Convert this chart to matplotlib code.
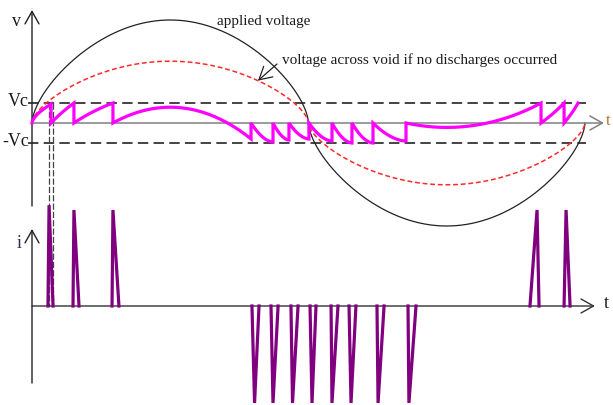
import numpy as np
import matplotlib
matplotlib.use("Agg")
import matplotlib.pyplot as plt

plt.rcParams['font.family'] = ['Liberation Serif', 'DejaVu Serif']
plt.rcParams['lines.scale_dashes'] = False

# ---------------- data ----------------
applied_amp = 10.0          # applied voltage peak
void_amp = 6.0              # voltage across void if no discharges occurred (peak)
vc = 1.95                   # discharge inception level  (+Vc / -Vc)
shape_power = 0.62          # the hand-drawn waves are fuller than a pure sine

# phases (deg) where the void voltage collapses, and the level reached just before
collapse_phase = [12.4, 27.3, 52.7, 142.6, 156.9, 167.3, 180.3, 195.3, 208.3,
                  222.0, 243.5, 331.4, 346.4]
collapse_level = [1.84, 1.94, 1.94, -1.55, -1.84, -1.65, -1.55, -1.75, -1.94,
                  -1.94, -1.75, 1.94, 1.94]
end_phase = 355.5
end_level = 1.94

# current pulses: start, tip, end phase (deg) and amplitude
spike_start = [10.4, 26.7, 52.1, 143.2, 155.6, 168.6, 181.0, 194.7, 206.4,
               224.6, 244.8, 324.2, 346.4]
spike_tip = [11.1, 27.3, 52.7, 144.9, 156.9, 169.6, 182.3, 195.3, 207.7,
             225.3, 245.4, 328.8, 347.7]
spike_end = [13.7, 30.6, 56.6, 147.8, 160.2, 173.2, 184.9, 199.2, 210.9,
             229.2, 250.0, 330.1, 350.3]
spike_amp = [1.05, 1.0, 1.0, -1.01, -1.01, -1.01, -1.01, -1.01, -1.01,
             -1.01, -1.01, 1.0, 1.0]

# ---------------- helpers ----------------
def wave(t, amp):
    s = np.sin(np.radians(t))
    return amp * np.sign(s) * np.abs(s) ** shape_power

W, H = 613, 405
fig = plt.figure(figsize=(W / 100, H / 100), dpi=100)

px_per_deg = 1.536
x0_px = 32
xlim = (-x0_px / px_per_deg, (W - x0_px) / px_per_deg)

# upper panel : voltages
top_px, bot_px = 0, 235
axv_px = 123
v_scale = 10.3
ax1 = fig.add_axes([0, 1 - bot_px / H, 1, (bot_px - top_px) / H])
ax1.set_xlim(*xlim)
ax1.set_ylim((axv_px - bot_px) / v_scale, (axv_px - top_px) / v_scale)
ax1.axis('off')
ax1.patch.set_alpha(0)

# lower panel : current
ltop_px, lbot_px = 195, 405
axi_px = 306
i_scale = 96
ax2 = fig.add_axes([0, 0, 1, (lbot_px - ltop_px) / H])
ax2.set_xlim(*xlim)
ax2.set_ylim((axi_px - lbot_px) / i_scale, (axi_px - ltop_px) / i_scale)
ax2.axis('off')
ax2.patch.set_alpha(0)

t = np.linspace(0, 360, 3000)

# Vc levels
for lvl in (vc, -vc):
    ax1.plot([-2.6, 360.7], [lvl, lvl], color='#111111', lw=1.1,
             dashes=(7.5, 3.8), clip_on=False)

# time axis (upper)
arrow_style = '->,head_length=0.75,head_width=0.42'
ax1.annotate('', xy=(372.4, 0), xytext=(0, 0),
             arrowprops=dict(arrowstyle=arrow_style, lw=1.1, color='#808080',
                             mutation_scale=12, shrinkA=0, shrinkB=0),
             annotation_clip=False)
# v axis
ax1.annotate('', xy=(0, (axv_px - 10) / v_scale), xytext=(0, (axv_px - 206) / v_scale),
             arrowprops=dict(arrowstyle=arrow_style, lw=1.0, color='#222222',
                             mutation_scale=12, shrinkA=0, shrinkB=0),
             annotation_clip=False)

# applied voltage and void voltage without discharges
ax1.plot(t, wave(t, applied_amp), color='#222222', lw=0.9, clip_on=False)
ax1.plot(t, wave(t, void_amp), color='#ff2a2a', lw=1.1, dashes=(3.5, 2.0),
         clip_on=False)

# voltage across void with discharges
bounds = [0.0] + collapse_phase + [end_phase]
levels = collapse_level + [end_level]
mx, my = [], []
for k, L in enumerate(levels):
    t0, t1 = bounds[k], bounds[k + 1]
    tt = np.linspace(t0, t1, 200)
    if L > 0 or (t1 - t0) > 40:
        r = wave(tt, void_amp) - wave(t0, void_amp)
        seg = r * L / r[-1]
    else:
        u = (tt - t0) / (t1 - t0)
        seg = L * (1 - (1 - u) ** 1.8)
    mx += list(tt)
    my += list(seg)
    if k < len(levels) - 1:
        mx.append(t1)
        my.append(0.0)
ax1.plot(mx, my, color='#ff00ff', lw=2.3, solid_joinstyle='miter', zorder=4)

# vertical dashed guide lines from first discharge down to the current axis
for xv in (spike_tip[0], spike_end[0]):
    ax1.plot([xv, xv], [vc, (axv_px - axi_px) / v_scale], color='#444444',
             lw=0.9, dashes=(4.5, 1.5), clip_on=False, zorder=2)

# texts upper
fig.text(217 / W, 1 - 21 / H, 'applied voltage', fontsize=11, color='#1a1a1a',
         ha='left', va='center')
fig.text(282 / W, 1 - 60 / H, 'voltage across void if no discharges occurred',
         fontsize=11, color='#1a1a1a', ha='left', va='center')
tip_phase = 147.1
ax1.annotate('', xy=(tip_phase, wave(tip_phase, void_amp)),
             xytext=((277 - x0_px) / px_per_deg, (axv_px - 64) / v_scale),
             arrowprops=dict(arrowstyle=arrow_style, lw=0.9, color='#222222',
                             mutation_scale=12, shrinkA=0, shrinkB=0),
             annotation_clip=False)
fig.text(17 / W, 1 - 21 / H, 'v', fontsize=13, color='#1a1a1a', ha='center', va='center')
fig.text(18 / W, 1 - 102 / H, 'Vc', fontsize=13, color='#1a1a1a', ha='center', va='center')
fig.text(16 / W, 1 - 142 / H, '-Vc', fontsize=13, color='#1a1a1a', ha='center', va='center')
fig.text(606 / W, 1 - 121 / H, 't', fontsize=12, color='#b8702a', ha='left', va='center')

# lower panel axes
ax2.annotate('', xy=(366.5, 0), xytext=(0, 0),
             arrowprops=dict(arrowstyle=arrow_style, lw=1.0, color='#333333',
                             mutation_scale=12, shrinkA=0, shrinkB=0),
             annotation_clip=False)
ax2.annotate('', xy=(0, (axi_px - 229) / i_scale), xytext=(0, (axi_px - 383) / i_scale),
             arrowprops=dict(arrowstyle=arrow_style, lw=1.0, color='#222222',
                             mutation_scale=12, shrinkA=0, shrinkB=0),
             annotation_clip=False)

for s0, sp, s1, a in zip(spike_start, spike_tip, spike_end, spike_amp):
    ax2.plot([s0, sp, s1], [0, a, 0], color='#800080', lw=2.3,
             solid_joinstyle='miter', clip_on=False, zorder=4)

fig.text(19 / W, 1 - 243 / H, 'i', fontsize=13, color='#23304a', ha='center', va='center')
fig.text(604 / W, 1 - 303 / H, 't', fontsize=13, color='#1a1a1a', ha='left', va='center')

fig.savefig('out.png', dpi=100)
